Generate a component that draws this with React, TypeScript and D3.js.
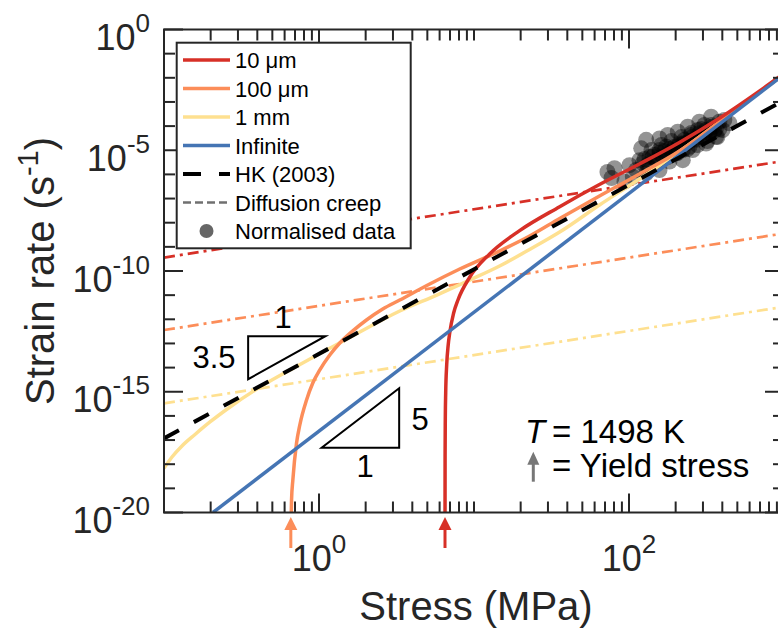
import React from 'react';
import * as d3 from 'd3';

const W = 778;
const H = 628;
const FONT = "'Liberation Sans', Arial, Helvetica, sans-serif";

// ---- data ----
const redStress = [6.5, 6.509, 6.529, 6.567, 6.665, 6.816, 6.97, 7.39, 7.88, 9.38, 12.62, 19.69, 35.7, 64.5, 116.8, 211.5, 383, 693, 1000];
const redRate = [1e-21, 2.4e-18, 7.4e-17, 8.9e-16, 1.28e-14, 8.6e-14, 2.7e-13, 1.82e-12, 6.3e-12, 5.5e-11, 5.1e-10, 4.7e-9, 4.6e-8, 3.8e-7, 2.7e-6, 2.1e-5, 2.1e-4, 2.79e-3, 1.52e-2];

const orangeStress = [0.658, 0.665, 0.678, 0.716, 0.752, 0.831, 0.912, 1.0125, 1.174, 1.362, 1.652, 2.024, 2.578, 3.32, 5.18, 8.09, 14.63, 22.85, 35.7, 64.5, 116.8, 211.5, 383, 693, 1000];
const orangeRate = [1e-21, 3.3e-20, 2.2e-19, 7.3e-18, 4.2e-17, 4.55e-16, 2.3e-15, 8.0e-15, 3.3e-14, 1.04e-13, 3.3e-13, 9.35e-13, 2.67e-12, 6.3e-12, 2.9e-11, 1.21e-10, 6.7e-10, 2.8e-9, 1.49e-8, 1.28e-7, 1.04e-6, 9.3e-6, 1.5e-4, 2.55e-3, 1.4e-2];

const yellowStress = [0.1, 0.1126, 0.1306, 0.1585, 0.198, 0.2666, 0.4163, 0.754, 1.58, 3.32, 5.75, 9.38, 14.63, 22.85, 35.7, 64.5, 116.8, 211.5, 383, 693, 1000];
const yellowRate = [6.8e-19, 1.99e-18, 5.7e-18, 1.7e-17, 5.6e-17, 2.34e-16, 1.57e-15, 1.34e-14, 1.76e-13, 2.2e-12, 1.01e-11, 4.2e-11, 1.61e-10, 7.8e-10, 4.1e-9, 5.4e-8, 6.45e-7, 8.9e-6, 1.45e-4, 2.46e-3, 1.37e-2];

const blueStress = [0.207, 1000];
const blueRate = [1e-20, 1.37e-2];

const hkStress = [0.1, 1000];
const hkRate = [1.17e-17, 1.17e-3];

const diffStress = [0.1, 1000];
const diffRed = [3.6e-10, 3.6e-6];
const diffOrange = [3.6e-13, 3.6e-9];
const diffYellow = [3.3e-16, 3.3e-12];

const dataStress = [80.6, 100.7, 93.5, 119.9, 129.1, 157.3, 177.8, 206.5, 239.3, 284.4, 338.8, 412.1, 444.6, 135.5, 157.3, 182.4, 222.3, 257.6, 314.1, 364.8, 401.8, 111.3, 122.8, 142.3, 157.3, 173.8, 191.4, 211.3, 233.9, 257.6, 284.4, 314.1, 346.7, 201.4, 222.3, 245.5, 271.0, 299.2, 330.4, 364.8, 149.6, 165.2, 182.4, 206.5, 227.8, 251.8, 277.9, 306.9, 382.8, 105.9, 129.1, 116.9, 72.6, 77.1,
  125.9, 135.6, 146.0, 157.3, 169.3, 182.4, 196.5, 211.5, 227.9, 245.5, 264.3, 284.4, 306.6, 330.4, 355.6, 382.8,
  139.6, 162.0, 187.9, 217.9, 252.8, 293.3, 340.2,
  131.6, 152.6, 177.1, 205.3, 238.2, 276.4, 320.6, 371.8];
const dataRate = [1.8e-6, 2.4e-6, 5.0e-7, 1.2e-5, 2.7e-5, 3.1e-5, 4.3e-5, 5.9e-5, 9.4e-5, 1.52e-4, 2.45e-4, 1.79e-4, 1.31e-4, 1.8e-6, 1.52e-6, 3.4e-6, 3.9e-6, 1.02e-5, 1.9e-5, 3.6e-5, 6.9e-5, 1.52e-6, 2.9e-6, 5.4e-6, 1.02e-5, 1.4e-5, 1.02e-5, 1.9e-5, 1.9e-5, 3.6e-5, 5.0e-5, 6.9e-5, 9.4e-5, 7.5e-6, 1.02e-5, 1.4e-5, 2.7e-5, 3.6e-5, 5.0e-5, 8.1e-5, 3.9e-6, 5.4e-6, 7.5e-6, 1.4e-5, 2.7e-5, 4.3e-5, 6.9e-5, 1.11e-4, 1.52e-4, 8.0e-7, 1.11e-6, 3.9e-6, 1.26e-6, 7.1e-7,
  4.3e-6, 5.2e-6, 6.4e-6, 7.7e-6, 9.3e-6, 1.13e-5, 1.36e-5, 1.65e-5, 2.0e-5, 2.4e-5, 2.9e-5, 3.5e-5, 4.3e-5, 5.2e-5, 6.3e-5, 7.6e-5,
  1.02e-5, 1.65e-5, 2.4e-5, 3.5e-5, 5.2e-5, 7.6e-5, 1.11e-4,
  2.45e-6, 3.6e-6, 5.2e-6, 7.7e-6, 1.13e-5, 1.65e-5, 2.4e-5, 3.5e-5];

const tri35Stress = [0.349, 1.1];
const tri35Rate = [3.3e-15, 2.0e-13];
const tri5Stress = [1.04, 3.29];
const tri5Rate = [4.8e-18, 1.39e-15];

const yieldStress = [0.658, 6.5];

const xTickExps = [0, 2];
const yTickExps = [0, -5, -10, -15, -20];

const legendLabels = ['10 μm', '100 μm', '1 mm', 'Infinite', 'HK (2003)', 'Diffusion creep', 'Normalised data'];

const RED = '#d73027';
const ORANGE = '#fc8d59';
const YELLOW = '#fee090';
const BLUE = '#4575b4';
const AX = '#262626';

const zip = (a: number[], b: number[]) => a.map((v, i) => [v, b[i]] as [number, number]);

export default function App() {
  const x = d3.scaleLog().domain([0.1, 1000]).range([164, 784]);
  const y = d3.scaleLog().domain([1e-20, 1]).range([512.5, 29.5]);
  const [x0, x1] = x.range();
  const [y0, y1] = y.range();

  const curve = d3.line<[number, number]>().x(d => x(d[0])).y(d => y(d[1])).curve(d3.curveMonotoneX);
  const straight = d3.line<[number, number]>().x(d => x(d[0])).y(d => y(d[1]));

  const majorX = xTickExps.map(e => Math.pow(10, e));
  const minorX = x.ticks().filter(t => !majorX.some(m => Math.abs(m - t) / m < 1e-6) && t > 0.1 && t < 1000);
  const majorY = yTickExps.map(e => Math.pow(10, e));
  const minorY = d3.range(-19, 0).filter(e => !yTickExps.includes(e)).map(e => Math.pow(10, e));

  const DASH_DOT = '11 5 3 5';
  const HK_DASH = '17 17';

  const legX0 = 183, legX1 = 230, legTextX = 235;
  const legY = (i: number) => 60 + i * 28.5;

  const arrow = (cx: number, tip: number, bottom: number, color: string, hw = 6.5, hh = 13) => (
    <g>
      <line x1={cx} x2={cx} y1={tip + hh - 1} y2={bottom} stroke={color} strokeWidth={3} />
      <path d={`M${cx},${tip} L${cx - hw},${tip + hh} L${cx + hw},${tip + hh} Z`} fill={color} />
    </g>
  );

  const t35 = [
    [tri35Stress[0], tri35Rate[1]],
    [tri35Stress[1], tri35Rate[1]],
    [tri35Stress[0], tri35Rate[0]],
  ] as [number, number][];
  const t5 = [
    [tri5Stress[0], tri5Rate[0]],
    [tri5Stress[1], tri5Rate[0]],
    [tri5Stress[1], tri5Rate[1]],
  ] as [number, number][];

  return (
    <svg width={W} height={H} style={{ position: 'absolute', left: 0, top: 0, display: 'block', background: '#fff' }} fontFamily={FONT}>
      <defs>
        <clipPath id="plotClip">
          <rect x={x0} y={y1} width={x1 - x0} height={y0 - y1} />
        </clipPath>
      </defs>
      <rect x={0} y={0} width={W} height={H} fill="#fff" />

      <g clipPath="url(#plotClip)">
        {/* scatter */}
        {dataStress.map((s, i) => (
          <circle key={i} cx={x(s)} cy={y(dataRate[i])} r={8} fill="#000" fillOpacity={0.42} />
        ))}
        {/* diffusion creep */}
        <path d={straight(zip(diffStress, diffRed)) || ''} fill="none" stroke={RED} strokeWidth={2.7} strokeDasharray={DASH_DOT} />
        <path d={straight(zip(diffStress, diffOrange)) || ''} fill="none" stroke={ORANGE} strokeWidth={2.7} strokeDasharray={DASH_DOT} />
        <path d={straight(zip(diffStress, diffYellow)) || ''} fill="none" stroke={YELLOW} strokeWidth={2.7} strokeDasharray={DASH_DOT} />
        {/* model curves */}
        <path d={curve(zip(yellowStress, yellowRate)) || ''} fill="none" stroke={YELLOW} strokeWidth={3.5} />
        <path d={curve(zip(orangeStress, orangeRate)) || ''} fill="none" stroke={ORANGE} strokeWidth={3.5} />
        <path d={curve(zip(redStress, redRate)) || ''} fill="none" stroke={RED} strokeWidth={3.5} />
        <path d={straight(zip(blueStress, blueRate)) || ''} fill="none" stroke={BLUE} strokeWidth={3.5} />
        <path d={straight(zip(hkStress, hkRate)) || ''} fill="none" stroke="#000" strokeWidth={4} strokeDasharray={HK_DASH} />
      </g>

      {/* slope triangles */}
      <path d={(straight(t35) || '') + 'Z'} fill="none" stroke="#000" strokeWidth={2} />
      <path d={(straight(t5) || '') + 'Z'} fill="none" stroke="#000" strokeWidth={2} />
      <text x={283} y={328} fontSize={31} textAnchor="middle" fill="#000">1</text>
      <text x={214} y={368} fontSize={31} textAnchor="middle" fill="#000">3.5</text>
      <text x={420} y={430} fontSize={31} textAnchor="middle" fill="#000">5</text>
      <text x={365} y={477} fontSize={31} textAnchor="middle" fill="#000">1</text>

      {/* annotation */}
      <text x={525} y={443} fontSize={33} fontStyle="italic" fill="#000">T</text>
      <text x={552} y={443} fontSize={33} fill="#000">= 1498 K</text>
      {arrow(533.3, 451.7, 481.7, '#777777', 6, 13)}
      <text x={552} y={476.7} fontSize={33} fill="#000">= Yield stress</text>

      {/* axes box */}
      <rect x={x0} y={y1} width={x1 - x0} height={y0 - y1} fill="none" stroke={AX} strokeWidth={2} />
      {/* x ticks */}
      {minorX.map((t, i) => (
        <g key={'mx' + i}>
          <line x1={x(t)} x2={x(t)} y1={y0} y2={y0 - 11} stroke={AX} strokeWidth={2} />
          <line x1={x(t)} x2={x(t)} y1={y1} y2={y1 + 11} stroke={AX} strokeWidth={2} />
        </g>
      ))}
      {majorX.map((t, i) => (
        <g key={'Mx' + i}>
          <line x1={x(t)} x2={x(t)} y1={y0} y2={y0 - 19} stroke={AX} strokeWidth={2} />
          <line x1={x(t)} x2={x(t)} y1={y1} y2={y1 + 19} stroke={AX} strokeWidth={2} />
          <text x={x(t)} y={571} fontSize={36} textAnchor="middle" fill={AX}>
            10<tspan fontSize={26} dy={-18}>{xTickExps[i]}</tspan>
          </text>
        </g>
      ))}
      {/* y ticks */}
      {minorY.map((t, i) => (
        <g key={'my' + i}>
          <line x1={x0} x2={x0 + 11} y1={y(t)} y2={y(t)} stroke={AX} strokeWidth={2} />
          <line x1={x1} x2={x1 - 11} y1={y(t)} y2={y(t)} stroke={AX} strokeWidth={2} />
        </g>
      ))}
      {majorY.map((t, i) => (
        <g key={'My' + i}>
          <line x1={x0} x2={x0 + 19} y1={y(t)} y2={y(t)} stroke={AX} strokeWidth={2} />
          <line x1={x1} x2={x1 - 19} y1={y(t)} y2={y(t)} stroke={AX} strokeWidth={2} />
          <text x={150} y={y(t) + 20.5} fontSize={36} textAnchor="end" fill={AX}>
            10<tspan fontSize={26} dy={-18}>{yTickExps[i] === 0 ? '0' : '-' + Math.abs(yTickExps[i])}</tspan>
          </text>
        </g>
      ))}

      {/* yield arrows */}
      {arrow(x(yieldStress[0]), 517, 548, ORANGE)}
      {arrow(x(yieldStress[1]), 517, 548, RED)}

      {/* axis labels */}
      <text x={476} y={620} fontSize={40} textAnchor="middle" fill={AX}>Stress (MPa)</text>
      <text transform="translate(54,271) rotate(-90)" fontSize={40} textAnchor="middle" fill={AX}>
        Strain rate (s<tspan fontSize={29} dy={-16}>-1</tspan><tspan dy={16}>)</tspan>
      </text>

      {/* legend */}
      <rect x={176.7} y={42.7} width={234} height={205.6} fill="#fff" stroke={AX} strokeWidth={2} />
      <line x1={legX0} x2={legX1} y1={legY(0)} y2={legY(0)} stroke={RED} strokeWidth={3.5} />
      <line x1={legX0} x2={legX1} y1={legY(1)} y2={legY(1)} stroke={ORANGE} strokeWidth={3.5} />
      <line x1={legX0} x2={legX1} y1={legY(2)} y2={legY(2)} stroke={YELLOW} strokeWidth={3.5} />
      <line x1={legX0} x2={legX1} y1={legY(3)} y2={legY(3)} stroke={BLUE} strokeWidth={3.5} />
      <line x1={legX0} x2={legX1} y1={legY(4)} y2={legY(4)} stroke="#000" strokeWidth={4} strokeDasharray="18 18" />
      <line x1={legX0} x2={legX1} y1={legY(5)} y2={legY(5)} stroke="#707070" strokeWidth={2.5} strokeDasharray="8 4" />
      <circle cx={(legX0 + legX1) / 2} cy={legY(6)} r={7} fill="#666" />
      {legendLabels.map((l, i) => (
        <text key={l} x={legTextX} y={legY(i) + 8} fontSize={22} fill="#000">{l}</text>
      ))}
    </svg>
  );
}
